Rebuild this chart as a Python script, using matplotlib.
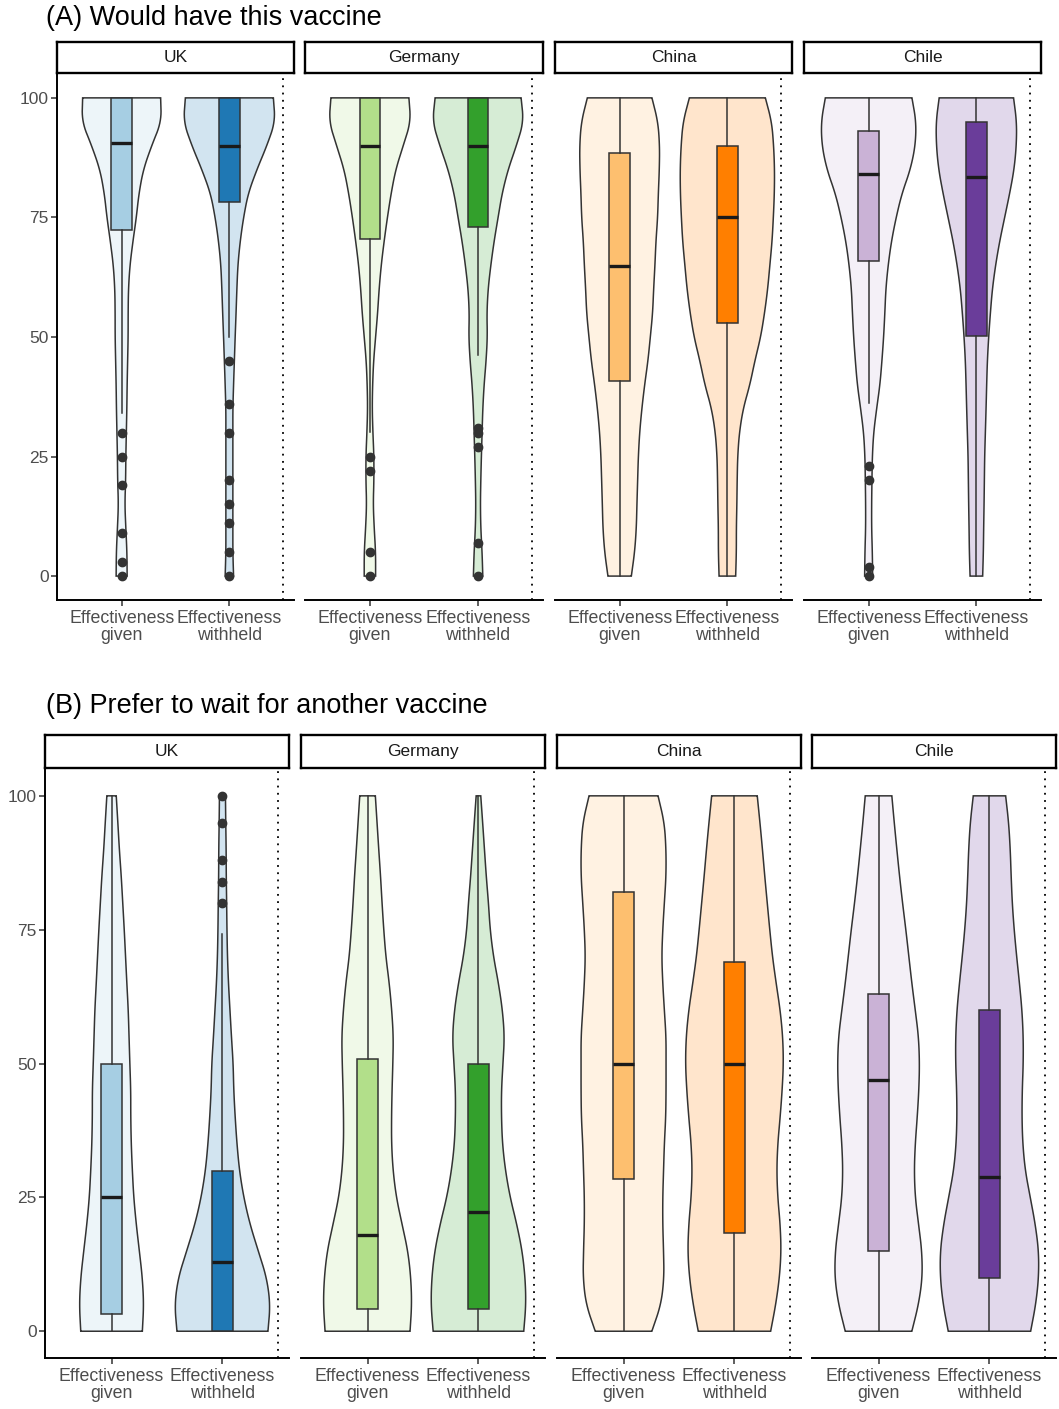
import numpy as np
import matplotlib.pyplot as plt
from matplotlib.colors import to_rgb

plt.rcParams['font.family'] = ['Liberation Sans', 'DejaVu Sans']

countries = ["UK", "Germany", "China", "Chile"]
conditions = ["Effectiveness\ngiven", "Effectiveness\nwithheld"]
levels = [0, 5, 10, 15, 20, 25, 30, 35, 40, 45, 50,
          55, 60, 65, 70, 75, 80, 85, 90, 95, 100]

given_cols = ["#a6cee3", "#b2df8a", "#fdbf6f", "#cab2d6"]
withheld_cols = ["#1f78b4", "#33a02c", "#ff7f00", "#6a3d9a"]

# violin half-widths (pixels), from 0 up to 100
# (A) Would have this vaccine
a_uk_g = [5.5, 5.3, 4.2, 3.2, 4, 4.2, 4.7, 5.2, 5.5, 6, 6.5, 6.5, 6.8, 8.3, 11.3, 14.7, 17.3, 21.7, 30, 39.7, 39]
a_uk_w = [4.2, 3.5, 3.5, 3.5, 3.5, 3.5, 3.5, 3.5, 4.2, 5, 5.8, 6.7, 7.5, 8.5, 10.8, 14.2, 18.8, 27.5, 37.5, 45.8, 44]
a_de_g = [5.7, 5.7, 4.3, 3.3, 4, 4, 3, 2.3, 2.7, 3.7, 5.7, 7.7, 9.2, 11.3, 14.2, 17.5, 21.2, 25.8, 33.3, 40.8, 39]
a_de_w = [4.7, 4, 2.7, 2.3, 2.7, 3.3, 4, 4.7, 6, 8, 9.3, 8.8, 10, 12.7, 16, 20, 24, 30, 38.3, 45.5, 43]
a_cn_g = [11.7, 15, 16.7, 17.3, 18, 18.7, 20, 22.2, 25, 28.3, 30.7, 33, 34, 35.3, 36.3, 38, 38.7, 39.7, 40, 38.3, 32.3]
a_cn_w = [8.3, 9, 9, 9.5, 9.8, 10.3, 12, 15.8, 22.5, 27.5, 33.3, 37.2, 40.3, 42.5, 44.7, 46, 47, 47.2, 46.3, 44.3, 38]
a_cl_g = [4, 3.7, 3, 3, 3.3, 3.7, 5, 8, 11.3, 13.3, 15, 16.2, 17.2, 19.5, 22.8, 27.5, 33.3, 41.7, 46.7, 47.5, 43.3]
a_cl_w = [6.3, 7, 7.3, 7.7, 8, 8.3, 9, 9.7, 10.3, 11, 12.3, 14, 16, 19.2, 23.3, 28.3, 33.3, 37.7, 40, 40.3, 37.2]

# (B) Prefer to wait for another vaccine
b_uk_g = [30.8, 32.2, 30.8, 27.8, 24.7, 22.2, 20.8, 19.7, 19.2, 19.2, 18.3, 17.5, 16.7, 15.3, 14, 12.7, 11.2, 9.7, 7.8, 6.3, 4.7]
b_uk_w = [45.5, 47.8, 44.2, 35.8, 27.5, 21.3, 17, 14.5, 12.7, 11.3, 10.7, 9, 7.5, 6, 5, 4.5, 4.2, 3.8, 3.7, 3.3, 3]
b_de_g = [42.5, 44.2, 43.3, 40.3, 34.5, 28.8, 25.5, 24, 24, 24.5, 25.3, 25.8, 24.2, 21.7, 18.3, 16.2, 14.5, 13, 11.2, 9.5, 7.8]
b_de_w = [45.3, 47.5, 46.7, 43.7, 38.3, 31.7, 27, 24, 23, 23, 24.5, 26, 24, 20, 15, 11.7, 10, 7.8, 6, 4.2, 2.3]
b_cn_g = [28.3, 37.5, 40.5, 40, 39.2, 39.2, 40, 40.8, 42.2, 42.5, 42.5, 42.5, 40.8, 39.2, 38.2, 39.2, 40.8, 42.5, 42.5, 40.8, 34.5]
b_cn_w = [36.2, 41.3, 45, 46.7, 45.7, 43.3, 42.3, 43.3, 45.7, 47.7, 49, 48.3, 45.7, 41.7, 38, 35.3, 32.8, 30.3, 28, 25.5, 22.8]
b_cl_g = [33.3, 40, 43.8, 43.3, 40, 36.7, 35.7, 36.7, 38.7, 40.3, 41, 40, 36.7, 33.3, 30.3, 27.3, 24, 21, 18.3, 15.7, 13.3]
b_cl_w = [41.2, 46.3, 49.2, 49.2, 45.8, 40.8, 35.8, 33.3, 32.5, 32.8, 33.8, 33.8, 32.5, 30, 27.2, 24.7, 22.8, 21.7, 20.8, 19.2, 16.2]

# box stats, per country: [given, withheld]
a_wlo = [[34, 50], [30.2, 46.2], [0, 0], [36.1, 0]]
a_q1 = [[72.4, 78.2], [70.4, 72.9], [40.7, 53], [65.9, 50.1]]
a_med = [[90.5, 90], [90, 90], [64.9, 75], [84.1, 83.5]]
a_q3 = [[100, 100], [100, 100], [88.4, 90], [93, 94.9]]
a_whi = [[100, 100], [100, 100], [100, 100], [100, 100]]
a_out = [[[30, 25, 19, 9, 3, 0], [45, 36, 30, 20, 15, 11, 5, 0]],
         [[25, 22, 5, 0], [31, 30, 27, 7, 0]],
         [[], []],
         [[23, 20, 2, 0], []]]

b_wlo = [[0, 0], [0, 0], [0, 0], [0, 0]]
b_q1 = [[3.2, 0], [4.1, 4.1], [28.4, 18.4], [15, 9.9]]
b_med = [[25, 13], [18, 22.3], [50, 50], [47, 28.9]]
b_q3 = [[50, 30], [50.9, 50], [82.1, 69], [63, 60]]
b_whi = [[100, 74.2], [100, 100], [100, 100], [100, 100]]
b_out = [[[], [100, 95, 88, 84, 80]], [[], []], [[], []], [[], []]]

W, H = 1059, 1409
fig = plt.figure(figsize=(W / 100, H / 100), dpi=100)


def light(c, a=0.2):
    r, g, b = to_rgb(c)
    return (1 - a * (1 - r), 1 - a * (1 - g), 1 - a * (1 - b))


def chaikin(x, y, n=3):
    # round off the corners of the outline, ends stay where they are
    for _ in range(n):
        qx = 0.75 * x[:-1] + 0.25 * x[1:]
        qy = 0.75 * y[:-1] + 0.25 * y[1:]
        rx = 0.25 * x[:-1] + 0.75 * x[1:]
        ry = 0.25 * y[:-1] + 0.75 * y[1:]
        x = np.concatenate([[x[0]], np.ravel(np.column_stack([qx, rx])), [x[-1]]])
        y = np.concatenate([[y[0]], np.ravel(np.column_stack([qy, ry])), [y[-1]]])
    return x, y


def panel(title, title_y, strip_top, top, bottom, lefts, rights,
          violins, wlo, q1, med, q3, whi, out):
    fig.text(46 / W, 1 - title_y / H, title, fontsize=19.5, ha='left', va='center')
    for i, country in enumerate(countries):
        x0, x1 = lefts[i], rights[i]
        ax = fig.add_axes([x0 / W, 1 - bottom / H, (x1 - x0) / W, (bottom - top) / H])
        ppu = (x1 - x0) / 2.2
        cols = [given_cols[i], withheld_cols[i]]
        lv = np.array(levels, dtype=float)
        for j in range(2):
            hw = np.array(violins[i][j]) / ppu
            sx, sy = chaikin(hw, lv)
            xs = np.concatenate([j + 1 + sx, (j + 1 - sx)[::-1]])
            ys = np.concatenate([sy, sy[::-1]])
            ax.fill(xs, ys, facecolor=light(cols[j]), edgecolor='#333333',
                    lw=1.1, zorder=1)
        stats = []
        for j in range(2):
            stats.append(dict(whislo=wlo[i][j], q1=q1[i][j], med=med[i][j],
                              q3=q3[i][j], whishi=whi[i][j], fliers=out[i][j]))
        bp = ax.bxp(stats, positions=[1, 2], widths=0.19, patch_artist=True,
                    showcaps=False, manage_ticks=False,
                    boxprops=dict(edgecolor='#333333', lw=1.1),
                    medianprops=dict(color='#1a1a1a', lw=2.4),
                    whiskerprops=dict(color='#333333', lw=1.1),
                    flierprops=dict(marker='o', markerfacecolor='#333333',
                                    markeredgecolor='#333333', markersize=6),
                    zorder=2)
        for patch, c in zip(bp['boxes'], cols):
            patch.set_facecolor(c)
        ax.axvline(2.5, color='black', ls=(0, (1, 3)), lw=1.3, zorder=0)
        ax.set_xlim(0.4, 2.6)
        ax.set_ylim(-5, 105.2)
        ax.set_xticks([1, 2])
        ax.set_xticklabels(conditions, fontsize=12.8, color='#4d4d4d', linespacing=1.0)
        ax.spines['top'].set_visible(False)
        ax.spines['right'].set_visible(False)
        ax.spines['bottom'].set_linewidth(1.4)
        ax.tick_params(axis='both', length=4, width=1.1, color='#333333', pad=2)
        ax.tick_params(axis='x', pad=3)
        if i == 0:
            ax.spines['left'].set_linewidth(1.4)
            ax.set_yticks([0, 25, 50, 75, 100])
            ax.set_yticklabels(["0", "25", "50", "75", "100"], fontsize=12.5, color='#4d4d4d')
        else:
            ax.spines['left'].set_visible(False)
            ax.tick_params(axis='y', left=False, labelleft=False)
        sax = fig.add_axes([x0 / W, 1 - top / H, (x1 - x0) / W, (top - strip_top) / H])
        sax.set_xticks([])
        sax.set_yticks([])
        for s in sax.spines.values():
            s.set_linewidth(1.7)
        sax.text(0.5, 0.5, country, ha='center', va='center', fontsize=12.5,
                 color='#1a1a1a', transform=sax.transAxes)


a_violins = [[a_uk_g, a_uk_w], [a_de_g, a_de_w], [a_cn_g, a_cn_w], [a_cl_g, a_cl_w]]
b_violins = [[b_uk_g, b_uk_w], [b_de_g, b_de_w], [b_cn_g, b_cn_w], [b_cl_g, b_cl_w]]

panel("(A) Would have this vaccine", 18, 42, 73, 600,
      [57, 305, 555, 804], [294, 543, 792, 1041],
      a_violins, a_wlo, a_q1, a_med, a_q3, a_whi, a_out)
panel("(B) Prefer to wait for another vaccine", 706, 735, 768, 1358,
      [45, 301, 557, 812], [289, 545, 801, 1056],
      b_violins, b_wlo, b_q1, b_med, b_q3, b_whi, b_out)

fig.savefig("out.png", dpi=100)
